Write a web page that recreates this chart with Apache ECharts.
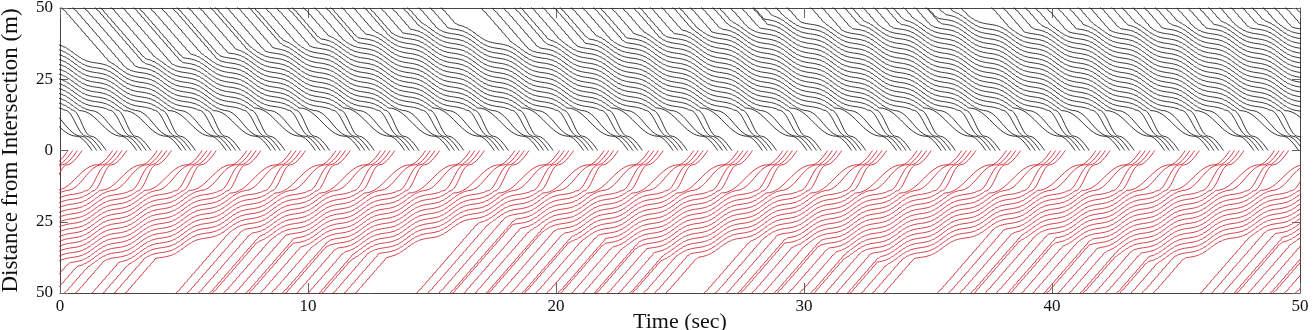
<!DOCTYPE html>
<html>
<head>
<meta charset="utf-8">
<script src="https://cdn.jsdelivr.net/npm/echarts@6/dist/echarts.min.js"></script>
<style>
html, body { margin: 0; padding: 0; background: #fff; }
#chart { width: 1316px; height: 330px; }
</style>
</head>
<body>
<div id="chart"></div>
<script>
// platoon crossing times at the stop line (s), 4 cars per platoon
const blackCross = [1.29, 3.09, 4.89, 6.70, 8.50, 10.30, 12.10, 13.90, 15.71, 17.51, 19.31, 21.11, 22.91, 24.72, 26.52, 28.32, 30.12, 31.92, 33.73, 35.53, 37.33, 39.13, 40.93, 42.74, 44.54, 46.34, 48.14, 49.94, 51.75, 53.55, 55.35, 57.15, 58.95, 60.76]
const redCross = [0.32, 2.12, 3.92, 5.73, 7.53, 9.33, 11.13, 12.93, 14.74, 16.54, 18.34, 20.14, 21.94, 23.75, 25.55, 27.35, 29.15, 30.95, 32.76, 34.56, 36.36, 38.16, 39.96, 41.77, 43.57, 45.37, 47.17, 48.97, 50.78, 52.58, 54.38, 56.18, 57.98, 59.79]

// time the platoon leader shows up at 50 m (null = already queued at t=0)
const blackEnter = [null, null, null, null, 0.1, 1.65, 3.2, 4.75, 6.3, 7.85, 9.4, 10.95, 12.5, 14.05, 17.0, 18.6, 20.2, 21.8, 23.4, 25.0, 26.6, 28.0, 30.3, 31.95, 33.6, 35.0, 37.6, 39.35, 41.1, 42.85, 44.6, 46.35, 48.1, 49.85]
const redEnter = [null, null, null, null, null, -0.7, 1.3, 4.7, 6.17, 7.64, 9.11, 10.58, 14.4, 15.85, 17.3, 18.75, 20.2, 21.65, 23.1, 26.0, 27.47, 28.94, 30.41, 31.88, 35.4, 36.87, 38.34, 39.81, 41.28, 42.75, 46.0, 47.47, 48.94, 50.41]

// queued cars move together: metres advanced per 0.15 s over one platoon cycle
const queueAdvance = [0.18, 0.23, 0.37, 0.55, 0.75, 0.92, 0.98, 0.92, 0.75, 0.55, 0.37, 0.23]
const queueStep = 0.15     // s
const carGap = 1.7         // m between queued cars
const exitLevel = 14       // m, where a car leaves the queue
const leadLeg = 2.3        // platoon leader: exitLevel -> stop line (s)
const lastLeg = 0.6        // final 5 m (s)
const slotGap = 0.19       // gap inside a platoon at the stop line (s)
const arriveGap = 0.45     // gap between arriving cars (s)
const vFree = 10           // free speed upstream (m/s)

function addFlow(series, cross, enter, sign, color) {
    // shared queue curve, pinned so the first car leaves it at exitLevel
    let t0 = cross[0] - leadLeg - queueStep * 80
    let cum = [0]
    for (let m = 0; m < 560; m++) cum.push(cum[m] + queueAdvance[m % 12])

    cross.forEach((cr, j) => {
        for (let k = 0; k < 4; k++) {
            let n = 4 * j + k
            let c = cr + slotGap * k
            let pts = []
            let prev = null
            for (let m = 0; m < cum.length; m++) {
                let t = t0 + queueStep * m
                let dq = exitLevel + cum[80] - cum[m] + carGap * n
                if (dq < exitLevel) break
                let d = dq
                if (enter[j] != null) {
                    d = Math.max(dq, 50 - vFree * (t - enter[j] - arriveGap * k))
                }
                if (d > 50) { prev = [t, sign * d]; continue }
                if (prev && pts.length === 0) pts.push(prev)
                pts.push([t, sign * d])
            }
            pts.push([c - lastLeg, sign * 5])
            pts.push([c, 0])
            series.push({
                type: 'line',
                data: pts,
                showSymbol: false,
                smooth: 0.4,
                smoothMonotone: 'x',
                silent: true,
                lineStyle: { color: color, width: 0.9 }
            })
        }
    })
}

let series = []
addFlow(series, blackCross, blackEnter, 1, '#1f1f1f')
addFlow(series, redCross, redEnter, -1, '#cc2936')

const font = 'Liberation Serif'
const frame = { show: true, onZero: false, lineStyle: { color: '#444', width: 1 } }

let option = {
    animation: false,
    grid: { left: 60, right: 16, top: 8, bottom: 37, containLabel: false, outerBoundsMode: 'none' },
    xAxis: [
        {
            type: 'value', min: 0, max: 50, interval: 10,
            name: 'Time (sec)', nameLocation: 'middle', nameGap: 18, nameMoveOverlap: false,
            nameTextStyle: { fontFamily: font, fontSize: 22, color: '#111' },
            axisLine: frame,
            axisTick: { inside: true, length: 10, lineStyle: { color: '#666' } },
            axisLabel: { fontFamily: font, fontSize: 17, color: '#111', margin: 5 },
            splitLine: { show: false }
        },
        {
            type: 'value', position: 'top', min: 0, max: 50, interval: 10,
            axisLine: frame,
            axisTick: { inside: true, length: 10, lineStyle: { color: '#666' } },
            axisLabel: { show: false },
            splitLine: { show: false }
        }
    ],
    yAxis: [
        {
            type: 'value', min: -50, max: 50, interval: 25,
            name: 'Distance from Intersection (m)', nameLocation: 'middle', nameGap: 38, nameMoveOverlap: false,
            nameTextStyle: { fontFamily: font, fontSize: 23, color: '#111' },
            axisLine: frame,
            axisTick: { inside: true, length: 8, lineStyle: { color: '#666' } },
            axisLabel: { fontFamily: font, fontSize: 17, color: '#111', margin: 7,
                formatter: v => String(Math.abs(v)) },
            splitLine: { show: false }
        },
        {
            type: 'value', position: 'right', min: -50, max: 50, interval: 25,
            axisLine: frame,
            axisTick: { inside: true, length: 8, lineStyle: { color: '#666' } },
            axisLabel: { show: false },
            splitLine: { show: false }
        }
    ],
    series: series
}

let myChart = echarts.init(document.getElementById('chart'))
myChart.setOption(option)
</script>
</body>
</html>
